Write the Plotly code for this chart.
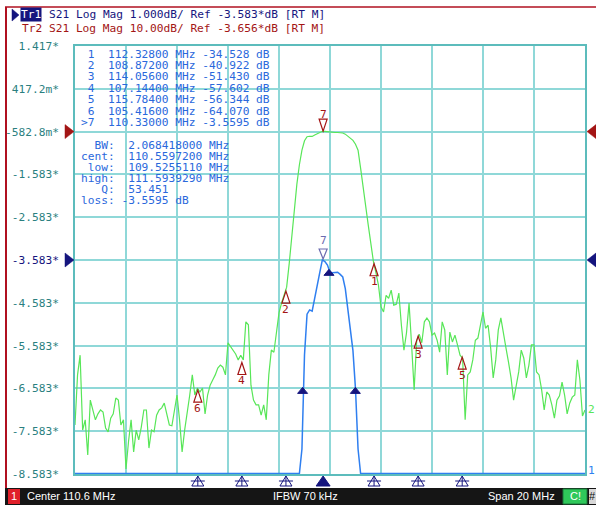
import numpy as np
import plotly.graph_objects as go

# ---------------- data ----------------
CENTER_MHZ = 110.6
SPAN_MHZ = 20.0
N_POINTS = 201

TR1_REF = -3.583      # dB, 1 dB/div
TR1_SCALE = 1.0
TR2_REF = -3.656      # dB, 10 dB/div
TR2_SCALE = 10.0

TICK_LABELS = ["-8.583*", "-7.583*", "-6.583*", "-5.583*", "-4.583*", "-3.583*",
               "-2.583*", "-1.583*", "-582.8m*", "417.2m*", "1.417*"]

S21_DB = [
    -72.2, -60.5, -55.9, -73.4, -71.0, -79.2, -66.4, -68.7, -71.0, -69.6,
    -68.7, -69.2, -72.9, -73.8, -70.6, -69.6, -65.9, -66.4, -72.2, -71.0,
    -82.5, -76.0, -71.0, -78.5, -73.4, -75.7, -72.7, -68.7, -68.7, -77.6,
    -73.4, -73.8, -69.9, -68.7, -68.2, -67.1, -69.4, -72.2, -72.4, -68.7,
    -65.2, -71.0, -78.5, -73.4, -69.6, -65.2, -60.5, -65.2, -63.6, -64.5,
    -63.6, -69.6, -65.2, -62.9, -61.7, -60.5, -58.9, -58.2, -58.7, -60.5,
    -53.0, -53.9, -54.7, -55.6, -57.0, -55.9, -57.0, -48.1, -48.8, -62.9,
    -66.4, -67.5, -67.5, -69.9, -67.5, -71.0, -60.5, -54.7, -55.2, -50.0,
    -46.0, -43.7, -42.0, -40.0, -34.5, -28.0, -22.2, -16.0, -11.4, -8.0,
    -5.8, -4.85, -4.75, -4.78, -4.45, -4.15, -3.87, -3.58, -3.62, -3.70,
    -3.87, -3.88, -3.87, -3.87, -3.92, -3.98, -4.25, -4.75, -5.25, -5.7,
    -6.6, -8.0, -12.2, -17.0, -21.5, -25.5, -29.7, -33.9, -36.6, -39.5,
    -44.6, -45.8, -41.9, -42.6, -40.7, -44.2, -44.0, -41.4, -48.9, -54.7,
    -50.7, -43.7, -53.5, -64.0, -52.5, -51.0, -53.0, -48.1, -47.2, -48.1,
    -51.2, -50.7, -52.4, -55.2, -48.1, -50.0, -60.5, -50.5, -52.8, -51.2,
    -53.5, -55.9, -56.6, -71.0, -60.5, -59.8, -57.0, -52.4, -51.9, -48.9,
    -45.8, -49.6, -48.9, -54.2, -61.2, -57.0, -50.0, -47.2, -51.2, -54.2,
    -57.5, -61.2, -66.4, -62.9, -59.8, -54.7, -56.6, -61.2, -58.2, -53.5,
    -53.5, -59.8, -60.5, -64.0, -68.7, -64.5, -65.2, -67.5, -70.6, -66.4,
    -65.4, -62.2, -65.2, -69.6, -67.1, -65.7, -65.2, -57.0, -61.7, -70.1,
    -68.7,
]

MARKER_IDS = ["1", "2", "3", "4", "5", "6", "7"]
MARKER_MHZ = [112.328, 108.872, 114.056, 107.144, 115.784, 105.416, 110.330]
MARKER_DB = [-34.528, -40.922, -51.430, -57.602, -56.344, -64.070, -3.5595]
ACTIVE_MARKER = "7"

BW_LABELS = ["BW:", "cent:", "low:", "high:", "Q:", "loss:"]
BW_VALUES = ["2.068418000 MHz", "110.5597200 MHz", "109.5255110 MHz",
             "111.5939290 MHz", "53.451", "-3.5595 dB"]
BW_LOW_MHZ = 109.5255110
BW_HIGH_MHZ = 111.5939290
BW_CENT_MHZ = 110.5597200
BW_LOSS_DB = -3.5595
BW_DROP_DB = 3.0

HEADER_TR1 = "S21 Log Mag 1.000dB/ Ref -3.583*dB [RT M]"
HEADER_TR2 = "Tr2 S21 Log Mag 10.00dB/ Ref -3.656*dB [RT M]"
STATUS_LEFT = "Center 110.6 MHz"
STATUS_MID = "IFBW 70 kHz"
STATUS_RIGHT = "Span 20 MHz"

assert len(S21_DB) == N_POINTS

freq = np.linspace(CENTER_MHZ - SPAN_MHZ / 2, CENTER_MHZ + SPAN_MHZ / 2, N_POINTS)
s21 = np.array(S21_DB)

# ---------------- geometry / styling ----------------
W, H = 596, 507
L, R, T, B = 75, 585, 46, 474
PW, PH = R - L, B - T
NDIV = 10

x_lo, x_hi = CENTER_MHZ - SPAN_MHZ / 2, CENTER_MHZ + SPAN_MHZ / 2
y1_lo, y1_hi = TR1_REF - 5 * TR1_SCALE, TR1_REF + 5 * TR1_SCALE
y2_lo, y2_hi = TR2_REF - 8 * TR2_SCALE, TR2_REF + 2 * TR2_SCALE

MHZ_PX = SPAN_MHZ / PW
Y1_PX = (y1_hi - y1_lo) / PH
Y2_PX = (y2_hi - y2_lo) / PH


def px(xp):
    return (xp - L) / PW


def py(yp):
    return (B - yp) / PH


MONO = "DejaVu Sans Mono"
FS = 11.2
CHAR = 6.74
GRID = "#8fd8d8"
FRAME = "#5cbcbc"
TICKC = "#2b7f7f"
NAVY = "#15157e"
DRED = "#a31515"
GREEN = "#58e658"
BLUE = "#2f7ff0"
TBLUE = "#2a68dc"
M7BLUE = "#6b6bb0"

fig = go.Figure()

# Tr2 (10 dB/div) green
fig.add_trace(go.Scatter(x=freq, y=s21, yaxis="y2", mode="lines",
                         line=dict(color=GREEN, width=1.2), hoverinfo="skip"))
# Tr1 (1 dB/div) blue, pinned to the display edge like the analyzer does
s21_tr1 = np.clip(s21, y1_lo + 0.5 * Y1_PX, y1_hi)
fig.add_trace(go.Scatter(x=freq, y=s21_tr1, yaxis="y", mode="lines",
                         line=dict(color=BLUE, width=1.5), hoverinfo="skip"))

shapes = []
ann = []

# y tick labels
tickvals = [y1_lo + k * TR1_SCALE for k in range(NDIV + 1)]
ticktext = [f"<span style='color:{NAVY}'>{t}</span>" if abs(v - TR1_REF) < 1e-6 else t
            for v, t in zip(tickvals, TICK_LABELS)]

# ---- marker symbols on Tr2 (green) ----
for mid, mf, mv in zip(MARKER_IDS, MARKER_MHZ, MARKER_DB):
    hw = 4 * MHZ_PX
    if mid == ACTIVE_MARKER:
        h = 12 * Y2_PX
        shapes.append(dict(type="path", xref="x", yref="y2",
                           path=f"M{mf},{mv} L{mf-hw},{mv+h} L{mf+hw},{mv+h} Z",
                           line=dict(color=DRED, width=1.2)))
        ann.append(dict(x=mf, y=mv, xref="x", yref="y2", text=mid, showarrow=False,
                        yshift=17, font=dict(family=MONO, size=FS, color=DRED)))
        # same marker on Tr1
        h1 = 10 * Y1_PX
        shapes.append(dict(type="path", xref="x", yref="y",
                           path=f"M{mf},{mv} L{mf-hw},{mv+h1} L{mf+hw},{mv+h1} Z",
                           line=dict(color=M7BLUE, width=1.2)))
        ann.append(dict(x=mf, y=mv, xref="x", yref="y", text=mid, showarrow=False,
                        yshift=18, font=dict(family=MONO, size=FS, color=M7BLUE)))
    else:
        h = 12 * Y2_PX
        shapes.append(dict(type="path", xref="x", yref="y2",
                           path=f"M{mf},{mv} L{mf-hw},{mv-h} L{mf+hw},{mv-h} Z",
                           line=dict(color=DRED, width=1.2)))
        ann.append(dict(x=mf, y=mv, xref="x", yref="y2", text=mid, showarrow=False,
                        yshift=-18, font=dict(family=MONO, size=FS, color=DRED)))

# ---- bandwidth markers on Tr1 ----
bw_level = BW_LOSS_DB - BW_DROP_DB
cent_val = float(np.interp(BW_CENT_MHZ, freq, s21))
for bf, bv in [(BW_LOW_MHZ, bw_level), (BW_HIGH_MHZ, bw_level), (BW_CENT_MHZ, cent_val)]:
    hw = 5 * MHZ_PX
    h = 6 * Y1_PX
    shapes.append(dict(type="path", xref="x", yref="y",
                       path=f"M{bf},{bv} L{bf-hw},{bv-h} L{bf+hw},{bv-h} Z",
                       fillcolor=NAVY, line=dict(color=NAVY, width=1)))

# ---- stimulus markers under the x axis ----
for mid, mf in zip(MARKER_IDS, MARKER_MHZ):
    y_top, y_mid, y_bot = py(476), py(481), py(486)
    hw = 6 * MHZ_PX
    if mid == ACTIVE_MARKER:
        shapes.append(dict(type="path", xref="x", yref="paper",
                           path=f"M{mf},{y_top} L{mf-hw-MHZ_PX},{y_bot} L{mf+hw+MHZ_PX},{y_bot} Z",
                           fillcolor=NAVY, line=dict(color=NAVY, width=1)))
    else:
        shapes.append(dict(type="path", xref="x", yref="paper",
                           path=(f"M{mf},{y_top} L{mf-hw},{y_bot} L{mf+hw},{y_bot} Z "
                                 f"M{mf-hw-MHZ_PX},{y_mid} L{mf+hw+MHZ_PX},{y_mid} "
                                 f"M{mf},{y_top} L{mf},{y_bot}"),
                           line=dict(color=NAVY, width=1)))

# ---- reference arrows ----
for yref, val, col in [("y2", TR2_REF, DRED), ("y", TR1_REF, NAVY)]:
    hpx = 7 * (Y2_PX if yref == "y2" else Y1_PX)
    shapes.append(dict(type="path", xref="paper", yref=yref,
                       path=f"M{px(74)},{val} L{px(65)},{val+hpx} L{px(65)},{val-hpx} Z",
                       fillcolor=col, line=dict(color=col, width=0.5)))
    shapes.append(dict(type="path", xref="paper", yref=yref,
                       path=f"M{px(587)},{val} L{px(596)},{val+hpx} L{px(596)},{val-hpx} Z",
                       fillcolor=col, line=dict(color=col, width=0.5)))

# trace end labels
ann.append(dict(x=px(586), y=s21[-1], xref="paper", yref="y2", text="2", showarrow=False,
                xanchor="left", yanchor="middle", font=dict(family=MONO, size=FS, color=GREEN)))
ann.append(dict(x=px(586), y=py(479), xref="paper", yref="paper", text="1", showarrow=False,
                xanchor="left", yanchor="bottom", font=dict(family=MONO, size=FS, color=BLUE)))

# ---- marker table ----
NB = "\u00a0"
row_y = [54, 65.4, 76.8, 88.2, 99.6, 111.0, 122.4]
for k, (mid, mf, mv) in enumerate(zip(MARKER_IDS, MARKER_MHZ, MARKER_DB)):
    lead = ">" if mid == ACTIVE_MARKER else NB
    txt = f"{lead}{mid}{NB*2}{mf:.5f}{NB}MHz{NB}{mv:#.5g}{NB}dB"
    ann.append(dict(x=px(79.3), y=py(row_y[k]), xref="paper", yref="paper", text=txt,
                    showarrow=False, xanchor="left", yanchor="middle",
                    font=dict(family=MONO, size=FS, color=TBLUE)))

bw_y = [145, 156.1, 167.2, 178.3, 189.4, 200.5]
for k, (lab, val) in enumerate(zip(BW_LABELS, BW_VALUES)):
    gap = NB if val.startswith("-") else NB * 2
    txt = lab.rjust(5).replace(" ", NB) + gap + val.replace(" ", NB)
    ann.append(dict(x=px(79.3), y=py(bw_y[k]), xref="paper", yref="paper", text=txt,
                    showarrow=False, xanchor="left", yanchor="middle",
                    font=dict(family=MONO, size=FS, color=TBLUE)))

# ---- header ----
shapes.append(dict(type="path", xref="paper", yref="paper",
                   path=f"M{px(12)},{py(9)} L{px(19)},{py(15)} L{px(12)},{py(21)} Z",
                   fillcolor=NAVY, line=dict(color=NAVY, width=0.5)))
ann.append(dict(x=px(20), y=py(15), xref="paper", yref="paper", text="Tr1", showarrow=False,
                xanchor="left", yanchor="middle", bgcolor=NAVY, borderpad=0,
                font=dict(family=MONO, size=FS, color="white")))
ann.append(dict(x=px(20 + 4 * CHAR), y=py(15), xref="paper", yref="paper",
                text=HEADER_TR1.replace(" ", NB), showarrow=False,
                xanchor="left", yanchor="middle", font=dict(family=MONO, size=FS, color=NAVY)))
ann.append(dict(x=px(20), y=py(28.5), xref="paper", yref="paper",
                text=HEADER_TR2.replace(" ", NB), showarrow=False,
                xanchor="left", yanchor="middle", font=dict(family=MONO, size=FS, color=DRED)))

# ---- window frame and status bar ----
shapes.append(dict(type="line", xref="paper", yref="paper", x0=px(6), x1=px(6),
                   y0=py(7), y1=py(489), line=dict(color="#b01020", width=2)))
shapes.append(dict(type="line", xref="paper", yref="paper", x0=px(5), x1=px(596),
                   y0=py(7), y1=py(7), line=dict(color="#b01020", width=1.5)))
shapes.append(dict(type="rect", xref="paper", yref="paper", x0=px(5), x1=px(596),
                   y0=py(505), y1=py(488), fillcolor="#151515", line=dict(width=0)))
shapes.append(dict(type="rect", xref="paper", yref="paper", x0=px(8), x1=px(20),
                   y0=py(504), y1=py(489), fillcolor="#e0202a", line=dict(width=0)))
shapes.append(dict(type="rect", xref="paper", yref="paper", x0=px(563), x1=px(587),
                   y0=py(504), y1=py(489), fillcolor="#2fc85a", line=dict(color="#1a7a3a", width=1)))
shapes.append(dict(type="rect", xref="paper", yref="paper", x0=px(589), x1=px(596),
                   y0=py(504), y1=py(489), fillcolor="#d8d8d8", line=dict(width=0)))

SANS = "Liberation Sans"
ann.append(dict(x=px(14), y=py(496.5), xref="paper", yref="paper", text="1", showarrow=False,
                xanchor="center", yanchor="middle", font=dict(family=SANS, size=11, color="white")))
ann.append(dict(x=px(25), y=py(496.5), xref="paper", yref="paper", text=STATUS_LEFT,
                showarrow=False, xanchor="left", yanchor="middle",
                font=dict(family=SANS, size=11, color="white")))
ann.append(dict(x=px(305), y=py(496.5), xref="paper", yref="paper", text=STATUS_MID,
                showarrow=False, xanchor="center", yanchor="middle",
                font=dict(family=SANS, size=11, color="white")))
ann.append(dict(x=px(557), y=py(496.5), xref="paper", yref="paper", text=STATUS_RIGHT,
                showarrow=False, xanchor="right", yanchor="middle",
                font=dict(family=SANS, size=11, color="white")))
ann.append(dict(x=px(575), y=py(496.5), xref="paper", yref="paper", text="C!",
                showarrow=False, xanchor="center", yanchor="middle",
                font=dict(family=SANS, size=11, color="white")))
ann.append(dict(x=px(592.5), y=py(496.5), xref="paper", yref="paper", text="#",
                showarrow=False, xanchor="center", yanchor="middle",
                font=dict(family=SANS, size=11, color="#111111")))

fig.update_layout(
    width=W, height=H,
    margin=dict(l=L, r=W - R, t=T, b=H - B, pad=0),
    paper_bgcolor="white", plot_bgcolor="white",
    showlegend=False,
    xaxis=dict(range=[x_lo, x_hi], dtick=SPAN_MHZ / NDIV, tick0=x_lo,
               showgrid=True, gridcolor=GRID, gridwidth=1.5,
               showticklabels=False, zeroline=False, ticks="",
               showline=True, linecolor=FRAME, linewidth=1.5, mirror=True),
    yaxis=dict(range=[y1_lo, y1_hi], tickvals=tickvals, ticktext=ticktext,
               showgrid=True, gridcolor=GRID, gridwidth=1.5, zeroline=False,
               ticks="", ticklabelstandoff=12, automargin=False,
               tickfont=dict(family=MONO, size=FS, color=TICKC),
               showline=True, linecolor=FRAME, linewidth=1.5, mirror=True),
    yaxis2=dict(range=[y2_lo, y2_hi], overlaying="y", visible=False),
    shapes=shapes,
    annotations=ann,
)

fig.write_html(
    "out.html",
    config={"displayModeBar": False},
    post_script="document.body.style.margin='0px';document.body.style.overflow='hidden';",
)
